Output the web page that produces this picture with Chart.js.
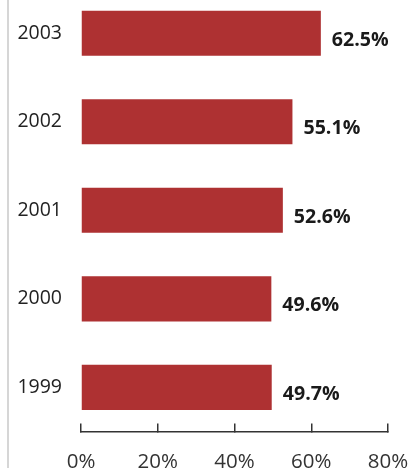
<!DOCTYPE html>
<html>
<head>
<meta charset="utf-8">
<script src="https://cdn.jsdelivr.net/npm/chart.js@4"></script>
<style>
  html, body { margin: 0; padding: 0; background: #fff; overflow: hidden; }
  #wrap { position: absolute; left: 0; top: -11px; width: 414px; height: 482px; }
</style>
</head>
<body>
<div id="wrap"><canvas id="js--chart--1"></canvas></div>
<script>
const years = ["2003", "2002", "2001", "2000", "1999"];
const shares = [62.5, 55.1, 52.6, 49.6, 49.7];
const shareLabels = ["62.5%", "55.1%", "52.6%", "49.6%", "49.7%"];
const xTicks = [0, 20, 40, 60, 80];

const fontName = "'Open Sans', 'Noto Sans', sans-serif";

// values next to each bar, a little below the middle
const valueLabels = {
  id: 'valueLabels',
  afterDatasetsDraw(chart) {
    const ctx = chart.ctx;
    const bars = chart.getDatasetMeta(0).data;
    ctx.save();
    ctx.font = "bold 19.6px " + fontName;
    ctx.fillStyle = "#1a1a1a";
    ctx.textAlign = "left";
    ctx.textBaseline = "middle";
    bars.forEach((bar, i) => {
      ctx.fillText(shareLabels[i], bar.x + 11, bar.y + 7);
    });
    ctx.restore();
  }
};

// thin grey rule on the left edge
const leftRule = {
  id: 'leftRule',
  beforeDraw(chart) {
    const ctx = chart.ctx;
    ctx.save();
    ctx.strokeStyle = "#c8c8c8";
    ctx.lineWidth = 1.5;
    ctx.beginPath();
    ctx.moveTo(8, 0);
    ctx.lineTo(8, chart.height);
    ctx.stroke();
    ctx.restore();
  }
};

const data = {
  labels: years,
  datasets: [{
    data: shares,
    backgroundColor: "#ae3132",
    barPercentage: 0.51,
    categoryPercentage: 1,
  }]
};

const config = {
  type: 'bar',
  data: data,
  plugins: [valueLabels, leftRule],
  options: {
    indexAxis: 'y',
    responsive: true,
    maintainAspectRatio: false,
    animation: false,
    layout: { padding: { top: 0, right: 26, bottom: 0, left: 0 } },
    plugins: {
      legend: { display: false },
      tooltip: { enabled: false },
    },
    scales: {
      x: {
        min: 0,
        max: 80,
        afterBuildTicks: s => { s.ticks = xTicks.map(v => ({ value: v })); },
        afterFit: s => {
          s.height = 39.4;
          s.paddingLeft = 0;
          s.paddingRight = 0;
        },
        grid: {
          drawOnChartArea: false,
          drawTicks: true,
          tickLength: -8,
          color: "#333",
          lineWidth: 1.5,
        },
        border: { display: true, color: "#333", width: 1.5 },
        ticks: {
          padding: 26,
          maxRotation: 0,
          color: "#333",
          font: { family: fontName, size: 20.5 },
          callback: v => v + "%",
        },
      },
      y: {
        afterFit: s => {
          s.width = 81;
          s.paddingTop = 0;
          s.paddingBottom = 0;
        },
        grid: { display: false, drawTicks: false },
        border: { display: false },
        ticks: {
          padding: 19,
          color: "#222",
          font: { family: fontName, size: 19.5 },
        },
      },
    },
  },
};

new Chart(document.getElementById("js--chart--1"), config);
</script>
</body>
</html>
